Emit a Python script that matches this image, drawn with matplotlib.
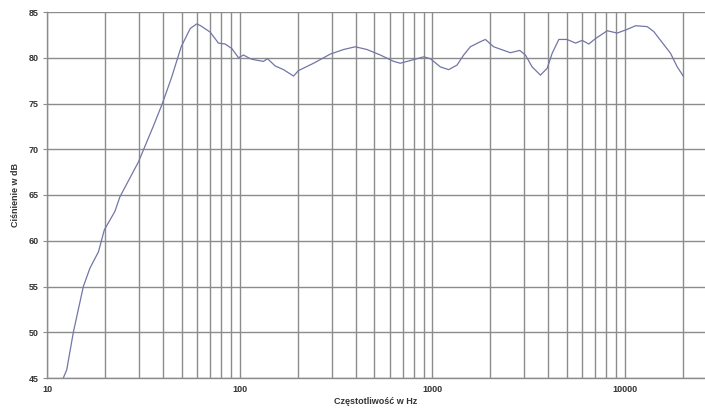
import numpy as np
import matplotlib
matplotlib.use('Agg')
import matplotlib.pyplot as plt
from matplotlib.ticker import FixedLocator, NullFormatter

# frequency response
freq = [12.15, 12.66, 13.7, 15.44, 16.7, 18.5, 19.85, 22.5, 23.9, 29.8,
        35.6, 39.7, 44.4, 49.7, 55.4, 59.9, 62.7, 70.3, 77.6, 84.1,
        91.1, 98.6, 104.7, 113.4, 117.9, 132.9, 139.4, 152.9, 168.9, 190.3,
        202.1, 241.8, 295.2, 346.1, 398, 457.8, 537, 630, 682, 784.8,
        901.6, 976, 1100, 1215, 1343, 1454, 1574, 1774, 1884, 2080,
        2541, 2841, 3041, 3295, 3638, 3944, 4188, 4532, 5000, 5536,
        5990, 6487, 7030, 8083, 9107, 10260, 11340, 13040, 14110, 15280,
        17210, 18660, 20050]
spl = [45.0, 45.9, 50.0, 55.0, 57.0, 58.8, 61.2, 63.2, 64.8, 68.6,
       72.5, 75.0, 77.9, 81.2, 83.2, 83.7, 83.5, 82.8, 81.6, 81.5,
       81.0, 80.0, 80.3, 79.9, 79.8, 79.6, 79.9, 79.1, 78.7, 78.0,
       78.6, 79.4, 80.4, 80.9, 81.2, 80.9, 80.3, 79.6, 79.4, 79.75,
       80.1, 79.9, 79.0, 78.7, 79.2, 80.3, 81.2, 81.75, 82.0, 81.2,
       80.55, 80.8, 80.3, 79.0, 78.1, 78.85, 80.5, 82.0, 82.0, 81.6,
       81.9, 81.5, 82.1, 82.95, 82.7, 83.1, 83.5, 83.4, 82.85, 81.9,
       80.5, 79.0, 78.0]

x_major = [10, 100, 1000, 10000]
x_grid = [20, 30, 40, 50, 60, 70, 80, 90,
          200, 300, 400, 500, 600, 700, 800, 900,
          2000, 3000, 4000, 5000, 6000, 7000, 8000, 9000,
          20000]
y_ticks = [45, 50, 55, 60, 65, 70, 75, 80, 85]

plt.rcParams['font.family'] = ['Liberation Sans', 'DejaVu Sans']

fig = plt.figure(figsize=(7.05, 4.09), dpi=100)
ax = fig.add_axes([47/705, 1 - 378/409, 1 - 47/705, (378 - 12)/409])

ax.set_xscale('log')
ax.set_xlim(10, 26000)
ax.set_ylim(45, 85)

ax.xaxis.set_major_locator(FixedLocator(x_major))
ax.xaxis.set_minor_locator(FixedLocator(x_grid))
ax.xaxis.set_minor_formatter(NullFormatter())
ax.set_xticklabels([str(v) for v in x_major])
ax.set_yticks(y_ticks)

ax.grid(True, which='both', axis='x', color='#8c8c8c', lw=1.0)
ax.grid(True, which='major', axis='y', color='#8c8c8c', lw=1.0)
ax.set_axisbelow(True)

for s in ['top', 'right']:
    ax.spines[s].set_visible(False)
for s in ['left', 'bottom']:
    ax.spines[s].set_color('#8c8c8c')
    ax.spines[s].set_linewidth(1.0)

ax.tick_params(axis='x', which='both', length=0, labelsize=6.5, pad=5,
               colors='#333333')
ax.tick_params(axis='y', length=3, labelsize=6.5, pad=3, color='#8c8c8c',
               labelcolor='#333333')
for t in ax.get_xticklabels() + ax.get_yticklabels():
    t.set_fontweight('bold')

ax.plot(freq, spl, color='#7276a6', lw=0.9)

ax.set_xlabel('Częstotliwość w Hz', fontsize=6.5, fontweight='bold',
              color='#333333', labelpad=2)
ax.set_ylabel('Ciśnienie w dB', fontsize=6.5, fontweight='bold',
              color='#333333', labelpad=6)

fig.savefig('out.png', dpi=100)
